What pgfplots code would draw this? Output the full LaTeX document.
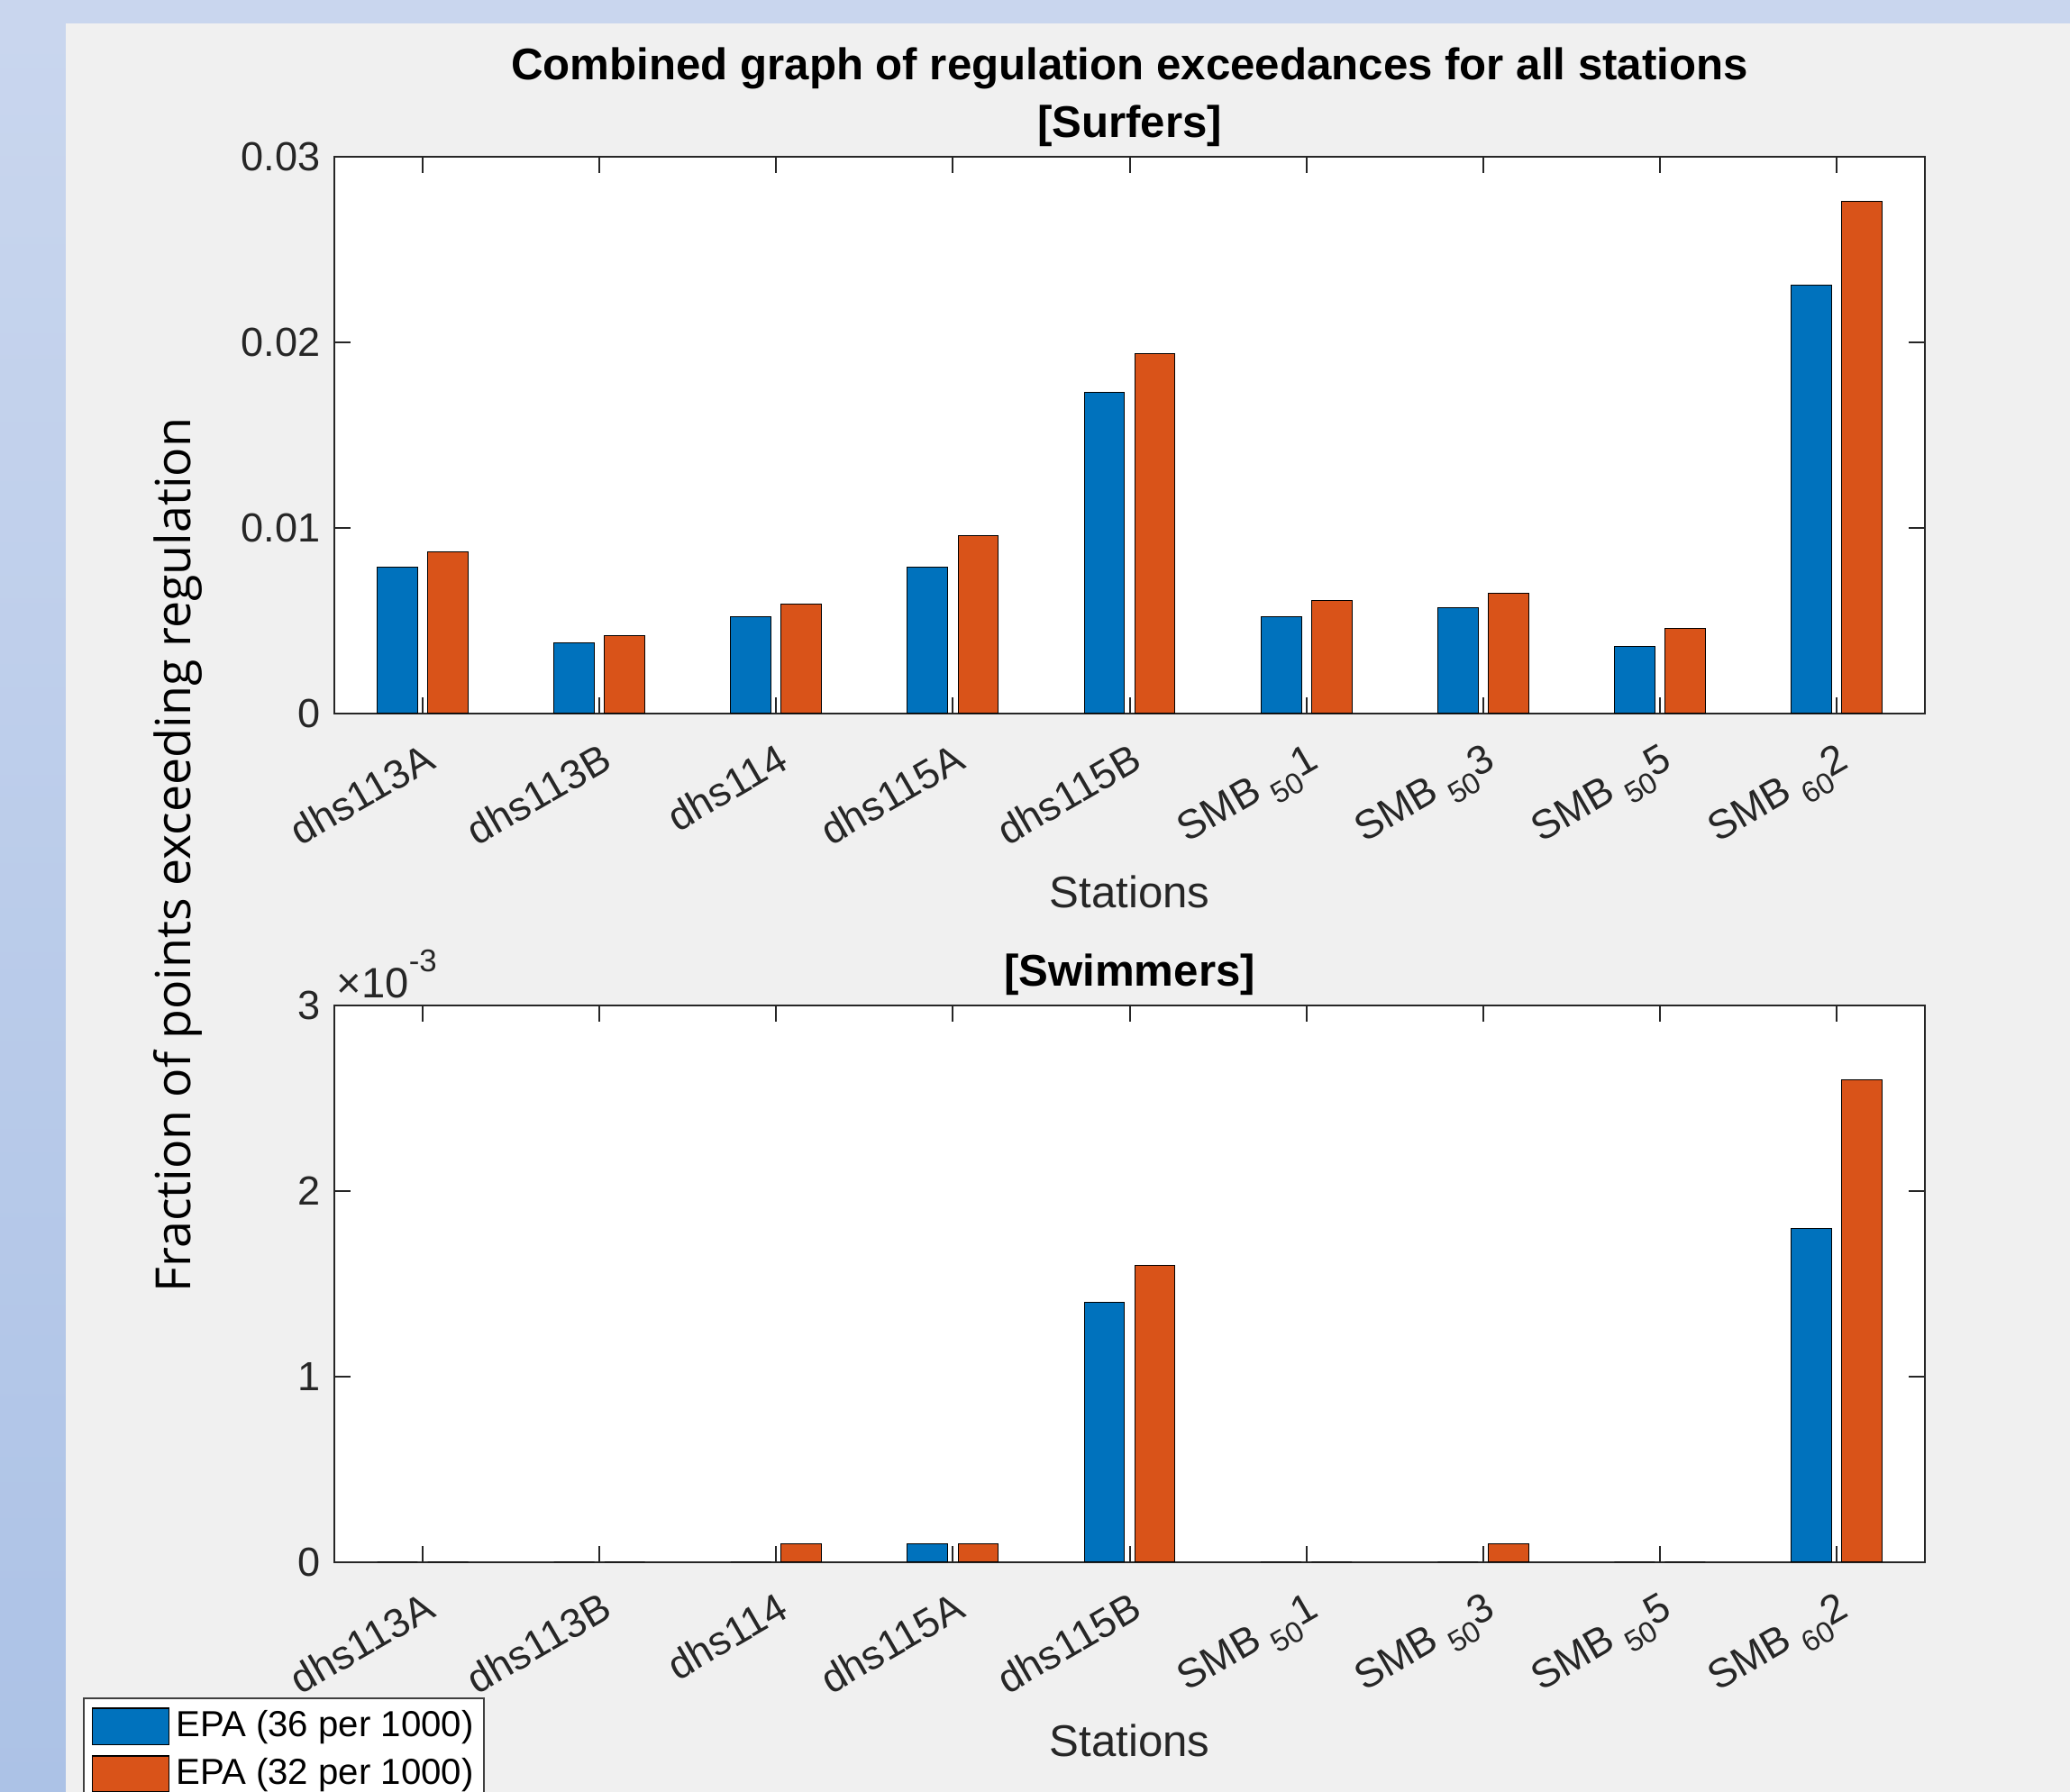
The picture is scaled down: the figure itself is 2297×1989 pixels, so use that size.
\documentclass[border=0pt]{standalone}
\usepackage{pgfplots}
\pgfplotsset{compat=1.18}
\usepackage{fontspec}
\setmainfont{Liberation Sans}
\newfontfamily\ylfont{Open Sans}
\definecolor{matblue}{RGB}{0,114,189}
\definecolor{matorange}{RGB}{217,83,25}
\definecolor{axgray}{RGB}{38,38,38}
\definecolor{panel}{RGB}{240,240,240}
\definecolor{bgtop}{RGB}{201,214,238}
\definecolor{bgbot}{RGB}{172,194,230}
\definecolor{leggray}{RGB}{64,64,64}
\newcommand{\smb}[2]{SMB\hspace{2.6pt}\raisebox{-0.6ex}{\fontsize{8}{9}\selectfont #1}#2}
\pgfplotsset{
  myaxis/.style={
    scale only axis, width=430.49pt, height=150.73pt,
    xmin=0.5, xmax=9.5, ymin=0,
    xtick={1,2,3,4,5,6,7,8,9},
    xticklabels={dhs113A,dhs113B,dhs114,dhs115A,dhs115B,\smb{50}{1},\smb{50}{3},\smb{50}{5},\smb{60}{2}},
    scaled y ticks=false,
    tick align=inside, xtick pos=both, ytick pos=both,
    major tick length=4.3pt,
    axis line style={draw=axgray, line width=0.5pt},
    tick style={draw=axgray, line width=0.5pt},
    axis background/.style={fill=white},
    ticklabel style={font=\fontsize{11}{13}\selectfont, text=axgray},
    xticklabel style={inner sep=0pt, yshift=-7.4pt, rotate=30, anchor=north east},
    yticklabel style={inner sep=0pt, anchor=east, xshift=-3.66pt},
    xlabel={Stations},
    every axis x label/.style={at={(axis description cs:0.5,-0.3495)}, anchor=base, font=\fontsize{12}{14}\selectfont, text=axgray},
    every axis title/.style={at={(axis description cs:0.5,1.034)}, anchor=base, font=\bfseries\fontsize{12}{14}\selectfont},
  },
  bluebar/.style={ybar, bar width=0.2286, bar shift=-0.1429, fill=matblue, draw=black, line width=0.25pt,
    legend image code/.code={\draw[fill=matblue, draw=black, line width=0.4pt] (0pt,-4.9pt) rectangle (20.7pt,4.9pt);}},
  orangebar/.style={ybar, bar width=0.2286, bar shift=0.1429, fill=matorange, draw=black, line width=0.25pt,
    legend image code/.code={\draw[fill=matorange, draw=black, line width=0.4pt] (0pt,-4.9pt) rectangle (20.7pt,4.9pt);}},
}
\begin{document}
\begin{tikzpicture}[x=0.243902pt, y=0.243902pt]
\path[use as bounding box, clip] (0,0) rectangle (2297,1989);
\fill[bgtop] (0,0) rectangle (2297,1989);
\shade[top color=bgtop, bottom color=bgbot] (0,0) rectangle (73,1963);
\fill[panel] (73,0) rectangle (2297,1963);

\begin{axis}[myaxis, at={(90.488pt,291.951pt)}, anchor=south west,
  ymax=0.03, ytick={0,0.01,0.02,0.03}, yticklabels={0,0.01,0.02,0.03},
  title={[Surfers]}]
\addplot[bluebar] coordinates {(1,0.0079) (2,0.0038) (3,0.0052) (4,0.0079) (5,0.0173) (6,0.0052) (7,0.0057) (8,0.0036) (9,0.0231)};
\addplot[orangebar] coordinates {(1,0.0087) (2,0.0042) (3,0.0059) (4,0.0096) (5,0.0194) (6,0.0061) (7,0.0065) (8,0.0046) (9,0.0276)};
\end{axis}

\begin{axis}[myaxis, at={(90.488pt,62.195pt)}, anchor=south west,
  ymax=0.003, ytick={0,0.001,0.002,0.003}, yticklabels={0,1,2,3},
  title={[Swimmers]},
  legend style={at={(-0.1581,-0.2427)}, anchor=north west, draw=leggray, fill=white, line width=0.4pt,
    font=\fontsize{9.8}{11}\selectfont, inner xsep=2.2pt, inner ysep=2.6pt, row sep=2.6pt,
    nodes={inner sep=0.6pt, text=black}},
  legend cell align=left]
\addplot[bluebar] coordinates {(1,0) (2,0) (3,0) (4,0.0001) (5,0.0014) (6,0) (7,0) (8,0) (9,0.0018)};
\addlegendentry{\hspace{1.2pt}EPA (36 per 1000)\hspace{3.5pt}}
\addplot[orangebar] coordinates {(1,0) (2,0) (3,0.0001) (4,0.0001) (5,0.0016) (6,0) (7,0.0001) (8,0) (9,0.0026)};
\addlegendentry{\hspace{1.2pt}EPA (32 per 1000)\hspace{3.5pt}}
\end{axis}

\node[anchor=base west, inner sep=0pt, text=axgray, font=\fontsize{11.5}{13}\selectfont] at (373,881) {×10\raisebox{1.2ex}{\fontsize{8.5}{9}\selectfont -3}};
\node[anchor=base, inner sep=0pt, font=\bfseries\fontsize{12}{14}\selectfont] at (1253.5,1900) {Combined graph of regulation exceedances for all stations};
\node[rotate=90, anchor=base, inner sep=0pt, font=\ylfont\fontsize{13.1}{15}\selectfont] at (211.7,1040) {Fraction of points exceeding regulation};
\end{tikzpicture}
\end{document}
